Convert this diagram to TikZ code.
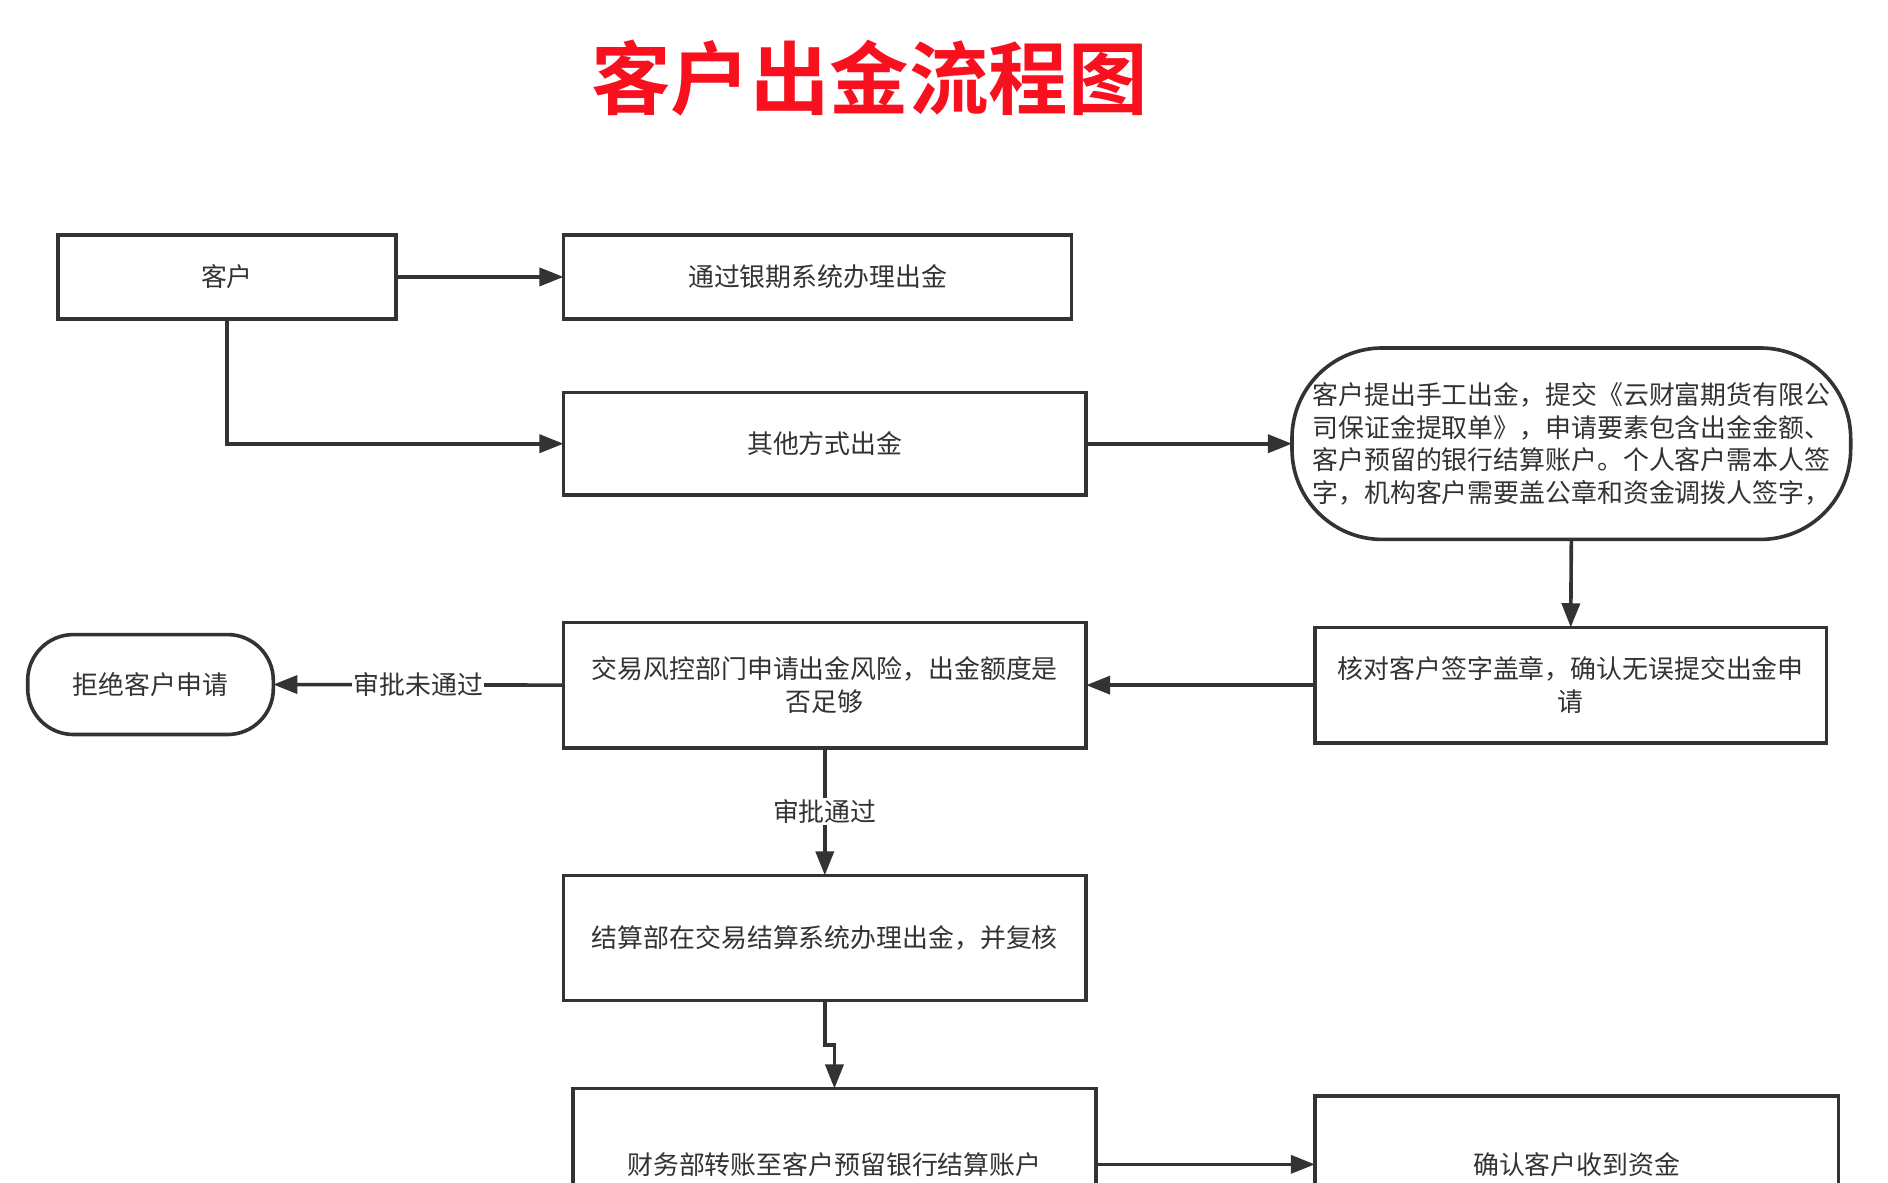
\documentclass[tikz,border=0pt]{standalone}
\usepackage{fontspec}
\setmainfont{Noto Sans CJK SC}
\newfontfamily\titlefont{Noto Sans CJK SC Bold}
\usetikzlibrary{arrows.meta}
\definecolor{ln}{HTML}{333333}
\definecolor{tred}{HTML}{F8101F}
\begin{document}
\begin{tikzpicture}[x=1pt,y=-1pt,
  box/.style={draw=ln, line width=3pt, fill=white, inner sep=2pt, outer sep=0pt,
    text=ln, align=center, font=\fontsize{21.5}{27}\selectfont},
  arr/.style={draw=ln, line width=3pt, -{Triangle[length=20pt,width=15pt]}},
  lbl/.style={fill=white, text=ln, inner sep=1pt, font=\fontsize{21.5}{27}\selectfont}]
\useasboundingbox (0,0) rectangle (1568,982);
\fill[white] (0,0) rectangle (1568,982);
\clip (0,0) rectangle (1568,982);

\node[text=tred, font=\titlefont\fontsize{66}{70}\selectfont] (title) at (722,65) {客户出金流程图};

\node[box, minimum width=281pt, minimum height=70pt] (a) at (188.5,230) {客户};
\node[box, minimum width=422pt, minimum height=70pt] (b) at (679,230) {通过银期系统办理出金};
\node[box, minimum width=434pt, minimum height=85pt] (c) at (685,368.5) {其他方式出金};
\node[box, rounded corners=75pt, minimum width=464pt, minimum height=159pt, align=left] (d) at (1305,368.5)
  {客户提出手工出金，提交《云财富期货有限公\\司保证金提取单》，申请要素包含出金金额、\\客户预留的银行结算账户。个人客户需本人签\\字，机构客户需要盖公章和资金调拨人签字，};
\node[box, minimum width=425pt, minimum height=96pt] (e) at (1304.5,569) {核对客户签字盖章，确认无误提交出金申\\请};
\node[box, minimum width=434pt, minimum height=104pt] (f) at (685,569) {交易风控部门申请出金风险，出金额度是\\否足够};
\node[box, rounded corners=38pt, minimum width=204pt, minimum height=83pt] (g) at (125,568.5) {拒绝客户申请};
\node[box, minimum width=434pt, minimum height=104pt] (h) at (685,779) {结算部在交易结算系统办理出金，并复核};
\node[box, minimum width=434pt, minimum height=126pt] (i) at (693,967) {财务部转账至客户预留银行结算账户};
\node[box, minimum width=435pt, minimum height=114pt] (j) at (1309.5,967) {确认客户收到资金};

\draw[arr] (a.east) -- (b.west);
\draw[arr] (a.south) |- (c.west);
\draw[arr] (c.east) -- (d.west);
\draw[arr] (d.south) -- (e.north);
\draw[arr] (e.west) -- (f.east);
\draw[arr] (f.west) -- node[lbl] {审批未通过} (g.east);
\draw[arr] (f.south) -- node[lbl] {审批通过} (h.north);
\draw[arr] (h.south) -- ++(0,37) -| (i.north);
\draw[arr] (i.east) -- (j.west);
\end{tikzpicture}
\end{document}
